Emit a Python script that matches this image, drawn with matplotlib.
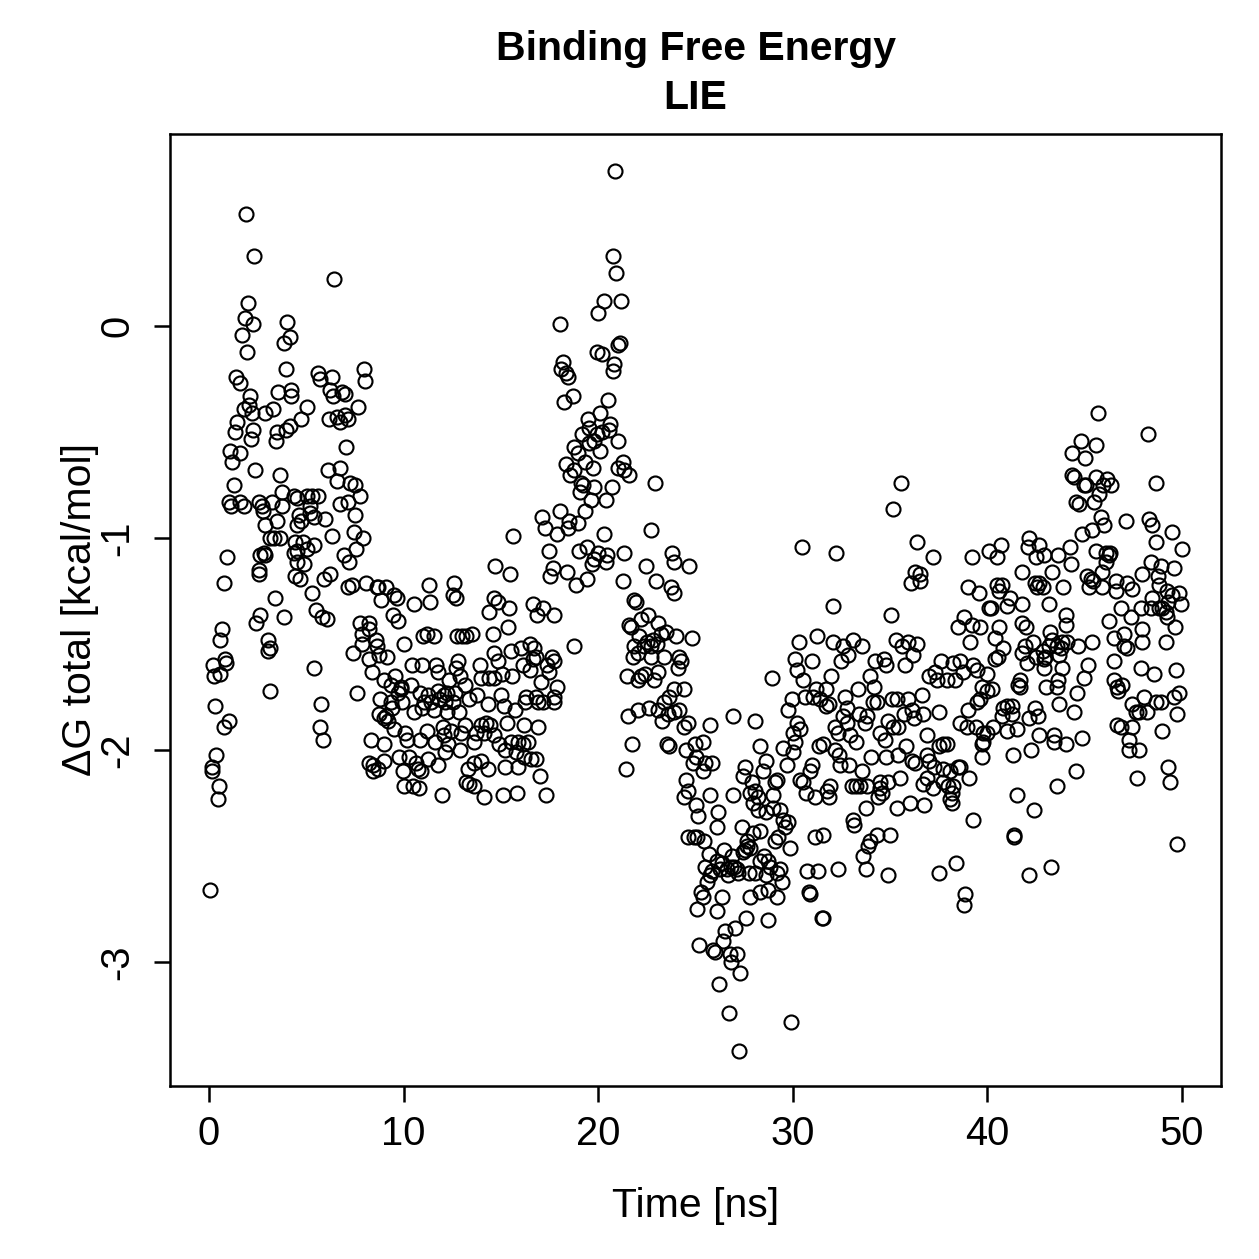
import numpy as np
import matplotlib.pyplot as plt

plt.rcParams['font.family'] = ['Liberation Sans', 'DejaVu Sans']

# (time [ns], dG total [kcal/mol]), by stretch of the run
pts_0_9 = [
    (0.05, -2.66), (0.15, -2.10), (0.15, -2.08), (0.20, -1.60), (0.26, -1.65), (0.31, -1.79),
    (0.36, -2.02), (0.46, -2.23), (0.51, -2.17), (0.56, -1.64), (0.56, -1.48), (0.67, -1.43),
    (0.77, -1.89), (0.77, -1.21), (0.82, -1.57), (0.87, -1.59), (0.92, -1.09), (1.02, -1.86),
    (1.02, -0.83), (1.08, -0.59), (1.13, -0.85), (1.18, -0.64), (1.28, -0.75), (1.33, -0.50),
    (1.38, -0.24), (1.43, -0.45), (1.59, -0.27), (1.59, -0.60), (1.59, -0.83), (1.69, -0.04),
    (1.79, -0.39), (1.79, -0.85), (1.84, 0.04), (1.90, 0.53), (1.95, -0.12), (2.00, 0.11),
    (2.05, -0.37), (2.10, -0.33), (2.15, -0.53), (2.20, -0.41), (2.25, 0.01), (2.25, -0.49),
    (2.31, 0.33), (2.36, -0.68), (2.41, -1.40), (2.56, -0.83), (2.56, -1.15), (2.56, -1.17),
    (2.61, -1.08), (2.61, -1.36), (2.72, -0.85), (2.77, -0.87), (2.82, -1.07), (2.87, -0.41),
    (2.87, -0.94), (2.87, -1.08), (3.02, -1.48), (3.02, -1.53), (3.13, -1.00), (3.13, -1.52),
    (3.13, -1.72), (3.23, -0.83), (3.28, -0.39), (3.33, -1.00), (3.38, -1.28), (3.43, -0.54),
    (3.48, -0.50), (3.48, -0.92), (3.53, -0.31), (3.64, -0.70), (3.64, -1.00), (3.74, -0.78),
    (3.74, -0.85), (3.84, -0.08), (3.84, -1.37), (3.94, -0.20), (3.94, -0.49), (4.00, 0.02),
    (4.15, -0.05), (4.15, -0.47), (4.20, -0.30), (4.20, -0.33), (4.35, -0.80), (4.35, -1.07),
    (4.41, -1.02), (4.41, -1.18), (4.51, -0.81), (4.51, -0.94), (4.51, -1.06), (4.51, -1.11),
    (4.61, -0.89), (4.66, -1.19), (4.71, -0.44), (4.71, -0.92), (4.82, -1.02), (4.87, -1.12),
    (5.02, -0.38), (5.02, -0.80), (5.02, -1.05), (5.17, -0.85), (5.17, -0.88), (5.28, -0.80),
    (5.28, -1.26), (5.38, -0.90), (5.38, -1.03), (5.38, -1.61), (5.48, -1.34), (5.58, -0.22),
    (5.58, -0.80), (5.69, -0.25), (5.69, -1.89), (5.74, -1.78), (5.79, -1.37), (5.84, -1.95),
    (5.89, -1.19), (5.94, -0.91), (6.05, -1.38), (6.10, -0.68), (6.15, -0.44), (6.20, -0.30),
    (6.20, -1.17), (6.30, -0.24), (6.30, -0.99), (6.40, -0.33), (6.45, 0.22), (6.56, -0.43),
    (6.56, -0.73), (6.71, -0.45), (6.71, -0.84), (6.76, -0.67), (6.86, -0.31), (6.92, -1.08),
    (6.97, -0.32), (6.97, -0.42), (7.02, -0.57), (7.17, -0.44), (7.17, -0.83), (7.17, -1.23),
    (7.22, -1.11), (7.27, -0.74), (7.33, -1.22), (7.38, -1.54), (7.43, -0.97), (7.48, -0.89),
    (7.53, -0.75), (7.58, -1.05), (7.63, -1.73), (7.68, -0.38), (7.74, -0.80), (7.74, -1.40),
    (7.84, -1.45), (7.89, -1.50), (7.94, -1.00), (7.99, -0.20), (8.04, -0.26), (8.09, -1.21),
    (8.20, -1.40), (8.20, -1.43), (8.25, -1.57), (8.25, -2.06), (8.35, -1.95), (8.40, -1.63),
    (8.45, -2.10), (8.56, -1.48), (8.71, -1.23), (8.71, -2.09), (8.76, -1.55), (8.76, -1.83),
    (8.81, -1.76), (8.86, -1.29), (8.97, -1.97), (8.97, -2.05), (9.02, -1.67), (9.02, -1.85),
]

pts_9_18 = [
    (14.70, -1.13), (15.47, -1.17), (17.67, -1.14), (17.52, -1.18), (8.61, -1.23), (9.12, -1.23),
    (9.53, -1.27), (9.68, -1.28), (10.55, -1.31), (11.32, -1.22), (11.37, -1.30), (12.60, -1.21),
    (12.55, -1.27), (12.70, -1.28), (14.65, -1.28), (14.86, -1.30), (15.42, -1.33), (14.40, -1.35),
    (16.65, -1.31), (17.16, -1.33), (16.85, -1.36), (17.73, -1.36), (9.48, -1.36), (9.73, -1.39),
    (8.61, -1.51), (9.17, -1.56), (10.04, -1.50), (11.01, -1.46), (11.22, -1.45), (11.58, -1.46),
    (12.76, -1.46), (13.01, -1.46), (13.22, -1.46), (13.52, -1.45), (14.60, -1.45), (15.37, -1.42),
    (14.65, -1.54), (14.86, -1.58), (15.52, -1.53), (16.03, -1.52), (16.50, -1.50), (16.70, -1.52),
    (16.65, -1.57), (16.80, -1.56), (16.14, -1.60), (16.50, -1.62), (17.62, -1.56), (17.37, -1.60),
    (17.73, -1.58), (17.47, -1.63), (13.93, -1.60), (13.99, -1.66), (14.40, -1.66), (14.65, -1.66),
    (15.06, -1.64), (15.57, -1.65), (17.06, -1.68), (9.58, -1.65), (9.38, -1.69), (9.89, -1.70),
    (10.45, -1.60), (10.96, -1.60), (11.68, -1.60), (11.78, -1.63), (12.81, -1.58), (12.70, -1.61),
    (12.91, -1.65), (12.35, -1.67), (13.17, -1.69), (10.40, -1.69), (9.89, -1.71), (9.73, -1.73),
    (10.86, -1.73), (11.27, -1.74), (11.78, -1.72), (12.09, -1.74), (12.24, -1.73), (12.65, -1.73),
    (13.78, -1.74), (15.01, -1.74), (16.29, -1.75), (16.80, -1.75), (17.88, -1.70), (17.73, -1.75),
    (9.38, -1.77), (9.94, -1.77), (11.07, -1.77), (11.42, -1.77), (11.83, -1.76), (12.14, -1.77),
    (12.55, -1.77), (13.37, -1.76), (14.34, -1.78), (15.16, -1.79), (16.24, -1.77), (16.91, -1.77),
    (17.16, -1.77), (17.73, -1.77), (9.43, -1.80), (10.55, -1.82), (10.96, -1.80), (11.58, -1.81),
    (12.24, -1.82), (12.86, -1.82), (15.73, -1.81), (9.12, -1.84), (9.22, -1.86), (9.53, -1.90),
    (10.09, -1.92), (10.19, -1.95), (11.22, -1.91), (12.04, -1.89), (12.45, -1.91), (12.09, -1.93),
    (13.17, -1.88), (13.73, -1.92), (13.99, -1.88), (14.24, -1.87), (14.45, -1.88), (15.32, -1.87),
    (16.19, -1.88), (16.91, -1.89), (10.86, -1.95), (11.63, -1.96), (12.30, -1.97), (12.96, -1.92),
    (13.63, -1.96), (14.14, -1.92), (14.65, -1.93), (14.91, -1.97), (15.52, -1.96), (15.88, -1.96),
    (16.14, -1.97), (16.39, -1.96), (9.78, -2.03), (10.30, -2.03), (11.27, -2.04), (12.14, -2.01),
    (12.91, -2.00), (15.22, -2.00), (15.78, -2.01), (16.19, -2.03), (16.55, -2.04), (16.80, -2.04),
    (8.45, -2.07), (9.99, -2.10), (10.66, -2.06), (10.76, -2.09), (10.91, -2.10), (11.78, -2.07),
    (13.32, -2.09), (13.63, -2.06), (13.99, -2.05), (14.34, -2.09), (15.22, -2.08), (15.88, -2.08),
    (17.01, -2.12), (10.04, -2.17), (10.50, -2.17), (10.81, -2.18), (11.99, -2.21), (13.22, -2.15),
    (13.37, -2.16), (13.63, -2.17), (14.14, -2.22), (15.11, -2.21), (15.83, -2.20), (17.32, -2.21),
]

pts_18_26 = [
    (20.85, 0.73), (20.75, 0.33), (20.90, 0.25), (20.29, 0.12), (21.16, 0.12), (19.98, 0.06),
    (18.03, 0.01), (19.93, -0.12), (20.18, -0.13), (21.11, -0.08), (21.00, -0.09), (18.19, -0.17),
    (18.08, -0.20), (18.34, -0.22), (18.44, -0.24), (20.80, -0.18), (20.75, -0.21), (18.24, -0.36),
    (18.70, -0.33), (20.49, -0.35), (20.08, -0.41), (19.47, -0.44), (20.59, -0.46), (19.52, -0.48),
    (20.54, -0.49), (19.93, -0.51), (20.18, -0.50), (19.16, -0.51), (21.00, -0.54), (19.52, -0.55),
    (19.77, -0.54), (18.75, -0.57), (18.95, -0.60), (20.08, -0.59), (19.31, -0.64), (18.34, -0.65),
    (21.26, -0.64), (21.00, -0.67), (21.31, -0.68), (21.57, -0.70), (18.75, -0.68), (18.55, -0.70),
    (19.72, -0.67), (19.11, -0.74), (19.21, -0.75), (19.06, -0.78), (19.77, -0.76), (20.70, -0.76),
    (22.90, -0.74), (19.62, -0.82), (20.39, -0.82), (19.31, -0.87), (18.03, -0.87), (17.11, -0.90),
    (18.49, -0.92), (18.95, -0.93), (17.26, -0.95), (17.88, -0.98), (18.44, -0.95), (22.69, -0.96),
    (20.29, -0.98), (15.63, -0.99), (17.47, -1.06), (19.01, -1.06), (19.42, -1.04), (19.98, -1.07),
    (19.77, -1.10), (19.67, -1.12), (20.44, -1.08), (20.39, -1.11), (21.31, -1.07), (23.77, -1.07),
    (23.92, -1.11), (24.69, -1.13), (22.44, -1.13), (18.39, -1.16), (18.85, -1.22), (19.42, -1.19),
    (21.26, -1.20), (22.95, -1.20), (23.72, -1.23), (23.87, -1.26), (21.82, -1.29), (21.93, -1.30),
    (22.54, -1.36), (22.18, -1.38), (23.05, -1.40), (21.57, -1.41), (21.67, -1.42), (22.08, -1.46),
    (22.49, -1.49), (22.80, -1.48), (23.21, -1.45), (23.46, -1.44), (23.98, -1.46), (24.80, -1.47),
    (21.82, -1.51), (22.34, -1.51), (22.69, -1.51), (23.00, -1.50), (21.77, -1.56), (22.03, -1.54),
    (22.69, -1.56), (23.36, -1.56), (24.13, -1.56), (24.23, -1.58), (24.08, -1.61), (21.46, -1.65),
    (22.18, -1.65), (22.39, -1.64), (22.03, -1.67), (22.85, -1.67), (23.05, -1.63), (23.87, -1.71),
    (24.39, -1.71), (23.36, -1.77), (23.62, -1.75), (22.03, -1.81), (22.59, -1.80), (23.05, -1.81),
    (23.57, -1.83), (23.87, -1.82), (24.13, -1.81), (21.52, -1.84), (23.26, -1.86), (24.39, -1.89),
    (24.59, -1.87), (25.77, -1.88), (21.72, -1.97), (23.51, -1.97), (23.62, -1.98), (24.49, -2.00),
    (24.95, -1.97), (25.41, -1.96), (25.00, -2.03), (24.85, -2.06), (25.51, -2.06), (25.87, -2.06),
    (25.41, -2.10), (21.41, -2.09), (24.49, -2.14), (24.59, -2.19), (24.39, -2.22), (25.72, -2.21),
    (25.00, -2.26), (25.15, -2.31), (26.18, -2.29), (26.13, -2.36), (24.64, -2.41), (24.90, -2.41),
    (25.10, -2.41), (25.46, -2.43), (25.67, -2.49), (18.75, -1.51),
]

pts_25_30 = [
    (26.95, -1.84), (28.07, -1.86), (28.94, -1.66), (28.33, -1.98), (27.56, -2.08), (27.46, -2.12),
    (28.48, -2.10), (28.64, -2.05), (26.95, -2.21), (27.92, -2.15), (27.82, -2.20), (28.07, -2.19),
    (28.23, -2.22), (27.97, -2.25), (28.23, -2.28), (28.64, -2.29), (29.00, -2.21), (29.10, -2.15),
    (29.20, -2.14), (29.00, -2.27), (27.41, -2.36), (28.33, -2.38), (27.97, -2.39), (27.66, -2.43),
    (27.66, -2.45), (27.56, -2.47), (27.82, -2.46), (27.46, -2.48), (26.44, -2.47), (29.10, -2.43),
    (29.25, -2.41), (26.90, -2.50), (27.00, -2.55), (27.15, -2.56), (25.51, -2.55), (25.87, -2.57),
    (26.28, -2.56), (26.64, -2.56), (26.80, -2.55), (28.07, -2.58), (28.33, -2.52), (28.53, -2.50),
    (28.74, -2.52), (28.84, -2.55), (29.20, -2.58), (28.64, -2.59), (27.77, -2.58), (27.20, -2.58),
    (26.69, -2.59), (25.77, -2.59), (25.61, -2.62), (25.26, -2.67), (25.36, -2.69), (25.10, -2.75),
    (26.38, -2.69), (26.08, -2.76), (27.82, -2.69), (28.33, -2.67), (28.74, -2.66), (29.20, -2.69),
    (27.61, -2.79), (28.74, -2.80), (26.54, -2.85), (27.05, -2.84), (26.43, -2.90), (25.20, -2.92),
    (25.92, -2.94), (26.02, -2.95), (26.79, -2.96), (27.15, -2.96), (26.84, -3.00), (27.30, -3.05),
    (26.23, -3.10), (26.74, -3.24), (27.25, -3.42), (29.92, -3.28), (31.51, -2.79), (31.56, -2.79),
    (26.08, -2.52), (26.38, -2.53),
]

pts_29_39 = [
    (35.55, -0.74), (35.14, -0.86), (30.48, -1.04), (32.22, -1.07), (36.37, -1.02), (37.19, -1.09),
    (36.27, -1.16), (36.53, -1.17), (36.07, -1.21), (36.53, -1.20), (32.07, -1.32), (35.04, -1.36),
    (38.47, -1.42), (30.33, -1.49), (31.25, -1.46), (32.07, -1.49), (32.58, -1.51), (33.09, -1.48),
    (33.56, -1.51), (32.84, -1.55), (32.48, -1.58), (35.30, -1.48), (35.60, -1.51), (35.91, -1.49),
    (36.37, -1.50), (36.17, -1.55), (35.76, -1.60), (34.22, -1.58), (34.68, -1.57), (34.78, -1.60),
    (30.12, -1.57), (30.23, -1.62), (30.53, -1.67), (30.99, -1.58), (31.97, -1.65), (33.97, -1.65),
    (34.17, -1.70), (33.35, -1.71), (31.20, -1.71), (31.71, -1.71), (30.64, -1.75), (31.05, -1.75),
    (31.40, -1.76), (31.71, -1.79), (31.86, -1.78), (29.97, -1.76), (29.76, -1.81), (32.68, -1.75),
    (32.79, -1.80), (34.12, -1.77), (34.32, -1.77), (35.09, -1.76), (35.35, -1.76), (35.91, -1.76),
    (36.63, -1.74), (36.99, -1.65), (37.40, -1.67), (37.30, -1.63), (37.60, -1.58), (38.22, -1.59),
    (37.91, -1.67), (38.32, -1.67), (37.50, -1.82), (36.68, -1.83), (36.22, -1.85), (36.12, -1.81),
    (35.71, -1.83), (35.40, -1.89), (35.14, -1.89), (34.89, -1.86), (33.81, -1.84), (33.71, -1.87),
    (33.40, -1.83), (32.79, -1.87), (32.58, -1.84), (32.17, -1.89), (32.33, -1.92), (34.48, -1.92),
    (34.73, -1.95), (32.94, -1.93), (33.25, -1.96), (30.23, -1.87), (30.02, -1.92), (30.38, -1.90),
    (30.12, -1.96), (30.02, -2.01), (31.35, -1.98), (31.56, -1.97), (32.17, -2.00), (32.38, -2.02),
    (32.43, -2.07), (32.89, -2.07), (29.51, -1.99), (29.71, -2.07), (30.99, -2.07), (30.89, -2.10),
    (30.38, -2.14), (30.53, -2.15), (30.69, -2.20), (31.15, -2.22), (31.76, -2.19), (31.91, -2.17),
    (31.86, -2.22), (33.04, -2.17), (33.25, -2.17), (33.56, -2.10), (34.02, -2.03), (34.78, -2.03),
    (35.40, -2.02), (35.81, -1.98), (36.12, -2.05), (36.27, -2.06), (36.89, -1.93), (37.50, -1.98),
    (37.70, -1.97), (37.91, -1.97), (36.89, -2.02), (36.99, -2.05), (37.24, -2.08), (37.70, -2.09),
    (38.06, -2.10), (38.47, -2.08), (36.68, -2.16), (36.89, -2.13), (37.19, -2.18), (37.70, -2.15),
    (37.96, -2.17), (38.17, -2.20), (38.22, -2.17), (38.06, -2.23), (38.17, -2.25), (34.48, -2.15),
    (34.89, -2.15), (34.48, -2.18), (34.37, -2.22), (34.58, -2.20), (35.50, -2.13), (33.45, -2.17),
    (33.81, -2.17), (33.76, -2.27), (35.35, -2.27), (36.01, -2.25), (36.73, -2.26), (29.35, -2.28),
    (29.51, -2.33), (29.76, -2.34), (29.61, -2.36), (33.09, -2.33), (33.15, -2.35), (31.15, -2.41),
    (31.56, -2.40), (34.32, -2.40), (34.99, -2.40), (33.97, -2.43), (33.86, -2.45), (29.87, -2.46),
    (33.61, -2.50), (33.76, -2.56), (32.33, -2.56), (30.74, -2.57), (31.30, -2.57), (34.89, -2.59),
    (37.50, -2.58), (38.37, -2.53), (30.84, -2.67), (30.89, -2.68), (29.35, -2.56), (29.46, -2.62),
]

pts_38_50 = [
    (45.70, -0.41), (48.26, -0.51), (44.83, -0.54), (45.59, -0.56), (44.36, -0.60), (45.03, -0.62),
    (44.36, -0.70), (44.47, -0.71), (44.98, -0.75), (45.08, -0.75), (45.59, -0.71), (46.16, -0.72),
    (46.36, -0.75), (45.95, -0.75), (45.75, -0.79), (45.49, -0.83), (44.57, -0.83), (44.72, -0.84),
    (48.67, -0.74), (45.85, -0.90), (46.00, -0.94), (45.39, -0.96), (44.88, -0.98), (47.13, -0.92),
    (48.31, -0.91), (48.46, -0.94), (48.67, -1.02), (49.49, -0.97), (50.00, -1.05), (39.19, -1.09),
    (40.06, -1.06), (40.47, -1.09), (40.68, -1.03), (42.11, -1.00), (42.06, -1.04), (42.67, -1.03),
    (42.52, -1.09), (42.93, -1.08), (43.60, -1.08), (44.26, -1.04), (44.31, -1.12), (45.59, -1.06),
    (46.11, -1.07), (46.31, -1.07), (46.26, -1.08), (46.11, -1.11), (48.41, -1.11), (48.92, -1.13),
    (49.59, -1.14), (47.95, -1.17), (41.75, -1.16), (43.34, -1.16), (38.99, -1.23), (39.55, -1.26),
    (40.47, -1.22), (40.73, -1.22), (40.57, -1.25), (42.42, -1.21), (42.67, -1.21), (42.83, -1.23),
    (42.57, -1.23), (43.90, -1.23), (45.13, -1.18), (45.34, -1.19), (45.24, -1.23), (45.44, -1.20),
    (45.90, -1.23), (45.90, -1.16), (46.62, -1.20), (46.62, -1.25), (47.18, -1.21), (47.44, -1.24),
    (48.77, -1.18), (48.82, -1.22), (48.46, -1.28), (48.41, -1.33), (48.82, -1.33), (48.98, -1.33),
    (49.23, -1.25), (49.49, -1.27), (49.85, -1.26), (49.95, -1.31), (49.28, -1.30), (49.18, -1.35),
    (49.23, -1.37), (49.64, -1.42), (49.18, -1.49), (40.06, -1.33), (40.16, -1.33), (40.98, -1.32),
    (41.14, -1.28), (41.75, -1.31), (43.14, -1.31), (46.88, -1.33), (47.39, -1.37), (47.90, -1.33),
    (46.26, -1.39), (44.06, -1.36), (44.06, -1.41), (38.78, -1.37), (39.19, -1.41), (39.60, -1.42),
    (40.57, -1.42), (40.37, -1.47), (41.80, -1.40), (41.96, -1.42), (42.32, -1.49), (43.19, -1.44),
    (43.34, -1.48), (39.09, -1.49), (40.78, -1.52), (40.37, -1.57), (40.52, -1.56), (41.91, -1.51),
    (41.80, -1.54), (42.01, -1.59), (42.83, -1.53), (42.98, -1.56), (43.14, -1.51), (43.55, -1.51),
    (43.80, -1.52), (43.70, -1.55), (43.85, -1.49), (44.11, -1.49), (44.67, -1.51), (45.39, -1.49),
    (42.52, -1.56), (42.93, -1.57), (43.85, -1.61), (42.93, -1.61), (45.18, -1.60), (44.98, -1.66),
    (44.62, -1.73), (44.47, -1.82), (43.70, -1.78), (43.55, -1.70), (43.60, -1.67), (43.03, -1.70),
    (46.52, -1.58), (46.52, -1.67), (46.67, -1.70), (46.93, -1.69), (46.72, -1.72), (46.52, -1.47),
    (47.03, -1.45), (47.03, -1.51), (47.18, -1.52), (47.95, -1.43), (47.95, -1.49), (47.90, -1.61),
    (48.57, -1.64), (49.69, -1.62), (48.05, -1.75), (47.44, -1.78), (47.64, -1.82), (47.80, -1.82),
    (48.21, -1.82), (48.67, -1.77), (48.92, -1.77), (49.59, -1.75), (49.85, -1.73), (49.74, -1.83),
    (48.98, -1.91), (46.67, -1.88), (46.88, -1.89), (47.44, -1.89), (47.28, -1.95), (47.28, -2.00),
    (47.80, -2.00), (47.69, -2.13), (49.28, -2.08), (49.39, -2.15), (49.74, -2.44), (38.58, -1.58),
    (38.73, -1.63), (39.24, -1.60), (39.45, -1.62), (39.96, -1.64), (39.70, -1.70), (39.96, -1.72),
    (40.22, -1.71), (39.45, -1.77), (39.60, -1.76), (38.99, -1.81), (40.78, -1.80), (40.98, -1.79),
    (41.24, -1.79), (41.24, -1.83), (40.73, -1.84), (41.55, -1.69), (41.65, -1.67), (41.65, -1.70),
    (42.16, -1.85), (42.42, -1.80), (42.62, -1.84), (38.58, -1.87), (38.93, -1.89), (39.40, -1.89),
    (39.75, -1.92), (39.96, -1.92), (40.27, -1.89), (39.75, -1.96), (39.70, -1.97), (41.03, -1.91),
    (41.50, -1.90), (39.70, -2.03), (38.58, -2.08), (39.04, -2.13), (42.67, -1.93), (42.26, -2.00),
    (43.44, -1.93), (43.44, -1.96), (44.06, -1.97), (44.88, -1.94), (41.29, -2.02), (44.57, -2.10),
    (43.55, -2.17), (41.50, -2.21), (42.37, -2.28), (39.24, -2.33), (41.39, -2.40), (41.39, -2.41),
    (42.11, -2.59), (43.29, -2.55), (38.83, -2.68), (38.78, -2.73),
]

segments = [pts_0_9, pts_9_18, pts_18_26, pts_25_30, pts_29_39, pts_38_50]
pts = np.array([p for seg in segments for p in seg])
time_ns = pts[:, 0]
dg_total = pts[:, 1]

W = 1259
fig = plt.figure(figsize=(W / 180, W / 180), dpi=180)
ax = fig.add_axes([170 / W, 1 - 1086 / W, (1221 - 170) / W, (1086 - 134) / W])

ax.plot(time_ns, dg_total, linestyle='none', marker='o', markersize=5.6,
        markerfacecolor='none', markeredgecolor='black', markeredgewidth=0.85)

ax.set_xlim(-2, 52)
ax.set_ylim(-3.583, 0.906)
ax.set_xticks([0, 10, 20, 30, 40, 50])
ax.set_yticks([-3, -2, -1, 0])
ax.set_yticklabels(['-3', '-2', '-1', '0'], rotation=90, va='center')

for s in ax.spines.values():
    s.set_linewidth(1.0)
ax.tick_params(direction='out', length=6.5, width=1.0, labelsize=16)
ax.tick_params(axis='x', pad=5)
ax.tick_params(axis='y', pad=7)

ax.set_xlabel('Time [ns]', fontsize=16.4)
ax.xaxis.set_label_coords(0.5, -0.106)
ax.set_ylabel('\u0394G total [kcal/mol]', fontsize=16.4)
ax.yaxis.set_label_coords(-0.068, 0.5)
ax.set_title('Binding Free Energy\nLIE', fontsize=16.4, fontweight='bold', pad=10,
             linespacing=1.36)

fig.savefig('out.png', dpi=180)
